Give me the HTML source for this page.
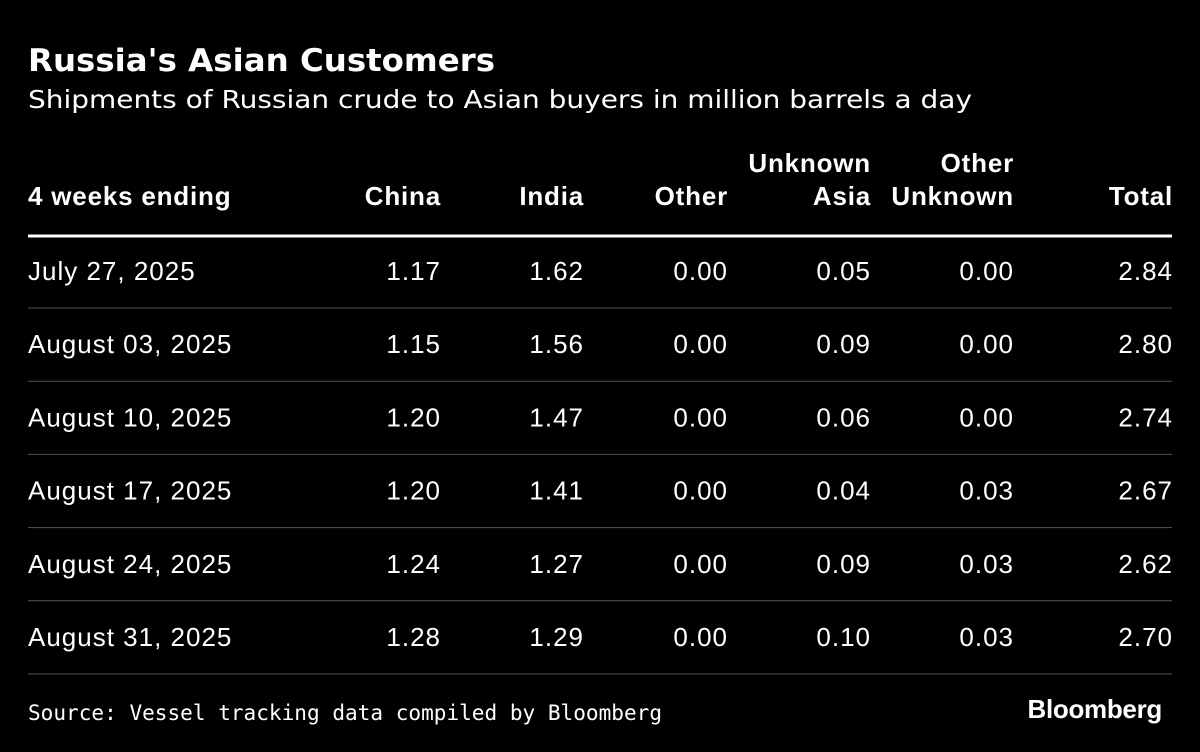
<!DOCTYPE html>
<html><head><meta charset="utf-8"><style>
html,body{margin:0;padding:0;background:#000;}
svg{display:block}
text{font-family:"Liberation Sans",sans-serif;fill:#fff}
</style></head><body>
<svg id="tbl" width="1200" height="752" viewBox="0 0 1200 752">
<rect width="1200" height="752" fill="#000"/>
<text x="28" y="71" font-size="31" font-weight="bold" style="font-family:'DejaVu Sans',sans-serif" textLength="467" lengthAdjust="spacingAndGlyphs">Russia's Asian Customers</text>
<text x="28" y="108" font-size="25" style="font-family:'DejaVu Sans',sans-serif" textLength="944" lengthAdjust="spacingAndGlyphs">Shipments of Russian crude to Asian buyers in million barrels a day</text>
<g id="hdr"></g>
<line x1="28" x2="1172" y1="236" y2="236" stroke="#fff" stroke-width="3"/>
<g id="rows"></g>
<text x="28" y="720" font-size="21" style="font-family:'DejaVu Sans Mono',monospace" textLength="634" lengthAdjust="spacingAndGlyphs">Source: Vessel tracking data compiled by Bloomberg</text>
<text x="1162" y="718" font-size="26" font-weight="bold" text-anchor="end" letter-spacing="-0.3">Bloomberg</text>
</svg>
<script>
const headers=[["4 weeks ending"],["China"],["India"],["Other"],["Unknown","Asia"],["Other","Unknown"],["Total"]];
const dates=["July 27, 2025","August 03, 2025","August 10, 2025","August 17, 2025","August 24, 2025","August 31, 2025"];
const china=["1.17","1.15","1.20","1.20","1.24","1.28"];
const india=["1.62","1.56","1.47","1.41","1.27","1.29"];
const other=["0.00","0.00","0.00","0.00","0.00","0.00"];
const unknownAsia=["0.05","0.09","0.06","0.04","0.09","0.10"];
const otherUnknown=["0.00","0.00","0.00","0.03","0.03","0.03"];
const total=["2.84","2.80","2.74","2.67","2.62","2.70"];
const NS="http://www.w3.org/2000/svg";
const colX=[28,440,583,727,870,1013,1172];
const hdr=document.getElementById('hdr'), rows=document.getElementById('rows');
function txt(parent,x,y,s,anchor,bold){
  const t=document.createElementNS(NS,'text');
  t.setAttribute('x',x);t.setAttribute('y',y);t.setAttribute('font-size','26');
  t.setAttribute('letter-spacing',bold?'0.8':'1');
  t.setAttribute('text-anchor',anchor);
  if(bold)t.setAttribute('font-weight','bold');
  t.textContent=s;parent.appendChild(t);return t;
}
headers.forEach((h,i)=>{
  const anchor=i===0?'start':'end';
  const x=i===0?colX[i]:colX[i]+1;
  h.forEach((line,j)=>{
    const y=h.length===2?(172+j*33):205;
    const t=txt(hdr,x,y,line,anchor,true);
    
    
  });
});
const cols=[dates,china,india,other,unknownAsia,otherUnknown,total];
dates.forEach((d,r)=>{
  const g=document.createElementNS(NS,'g');
  
  
  const cy=270+r*73.2;
  cols.forEach((c,i)=>{
    const x=i===0?colX[i]:colX[i]+1;
    const t=txt(g,x,cy+10,c[r],i===0?'start':'end',false);
    
    
  });
  const ln=document.createElementNS(NS,'line');
  
  
  ln.setAttribute('x1',28);ln.setAttribute('x2',1172);
  ln.setAttribute('y1',cy+38);ln.setAttribute('y2',cy+38);
  ln.setAttribute('stroke','#555');ln.setAttribute('stroke-width','1');
  g.appendChild(ln);
  rows.appendChild(g);
});
</script>
</body></html>
